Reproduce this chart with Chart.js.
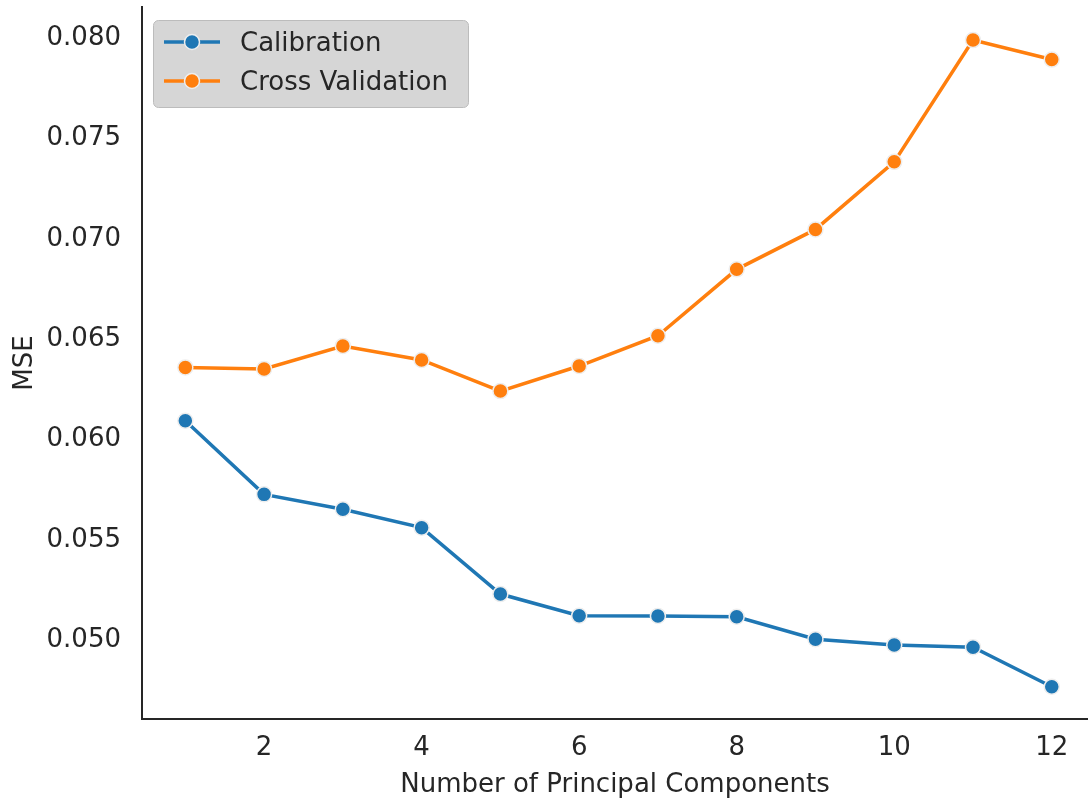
<!DOCTYPE html>
<html>
<head>
<meta charset="utf-8">
<title>MSE vs Number of Principal Components</title>
<script src="https://cdn.jsdelivr.net/npm/chart.js@4.4.1/dist/chart.umd.min.js"></script>
<style>
  html, body { margin: 0; padding: 0; background: #ffffff; }
  #wrap { width: 1088px; height: 803px; position: relative; }
</style>
</head>
<body>
<div id="wrap"><canvas id="chart" width="1088" height="803"></canvas></div>
<script>
// Number of principal components used in the model
const components = [1, 2, 3, 4, 5, 6, 7, 8, 9, 10, 11, 12];

// Mean squared error for each number of components
const calibrationMSE = [0.06081, 0.05714, 0.05640, 0.05548, 0.05217, 0.05109,
                        0.05108, 0.05104, 0.04992, 0.04963, 0.04952, 0.04755];
const crossValidationMSE = [0.06347, 0.06339, 0.06454, 0.06384, 0.06229, 0.06354,
                            0.06505, 0.06836, 0.07035, 0.07372, 0.07979, 0.07882];

// Axis tick values
const xTicks = [2, 4, 6, 8, 10, 12];
const yTicks = [0.050, 0.055, 0.060, 0.065, 0.070, 0.075, 0.080];

const seriesLabels = ['Calibration', 'Cross Validation'];
const seriesColors = ['#1f77b4', '#ff7f0e'];

const FONT = "'DejaVu Sans', sans-serif";
const TEXT = '#262626';

function toPoints(values) {
  return components.map((c, i) => ({ x: c, y: values[i] }));
}

function makeDataset(label, values, color) {
  return {
    label: label,
    data: toPoints(values),
    borderColor: color,
    backgroundColor: color,
    borderWidth: 3.5,
    pointRadius: 7.5,
    pointHoverRadius: 7.5,
    pointBackgroundColor: color,
    pointBorderColor: '#eeeeee',
    pointBorderWidth: 1.5,
    tension: 0,
    clip: false
  };
}

// Legend box drawn inside the plot area: line + marker handle, then label
const boxLegend = {
  id: 'boxLegend',
  afterDraw(chart) {
    const ctx = chart.ctx;
    const x0 = 153, y0 = 20, w = 315, h = 87, r = 5;
    ctx.save();
    ctx.beginPath();
    ctx.roundRect(x0 + 0.5, y0 + 0.5, w, h, r);
    ctx.fillStyle = '#d6d6d6';
    ctx.fill();
    ctx.lineWidth = 1;
    ctx.strokeStyle = '#bcbcbc';
    ctx.stroke();

    const rows = [42, 81];
    chart.data.datasets.forEach((ds, i) => {
      const y = rows[i];
      ctx.beginPath();
      ctx.moveTo(164, y);
      ctx.lineTo(220, y);
      ctx.lineWidth = 3.5;
      ctx.strokeStyle = ds.borderColor;
      ctx.stroke();
      ctx.beginPath();
      ctx.arc(192, y, 7.5, 0, Math.PI * 2);
      ctx.fillStyle = ds.pointBackgroundColor;
      ctx.fill();
      ctx.lineWidth = 1.5;
      ctx.strokeStyle = '#eeeeee';
      ctx.stroke();
      ctx.fillStyle = TEXT;
      ctx.font = '26px ' + FONT;
      ctx.textBaseline = 'middle';
      ctx.textAlign = 'left';
      ctx.fillText(ds.label, 240, y + 2);
    });
    ctx.restore();
  }
};

new Chart(document.getElementById('chart'), {
  type: 'line',
  data: {
    datasets: [
      makeDataset(seriesLabels[0], calibrationMSE, seriesColors[0]),
      makeDataset(seriesLabels[1], crossValidationMSE, seriesColors[1])
    ]
  },
  options: {
    responsive: false,
    animation: false,
    devicePixelRatio: 1,
    layout: { autoPadding: false, padding: { top: 7, right: 0, left: 0, bottom: 0 } },
    plugins: {
      legend: { display: false },
      tooltip: { enabled: false }
    },
    scales: {
      x: {
        type: 'linear',
        min: 0.45,
        max: 12.46,
        afterBuildTicks(scale) { scale.ticks = xTicks.map(v => ({ value: v })); },
        afterFit(scale) {
          scale.height = 84;
          scale.paddingLeft = 0;
          scale.paddingRight = 0;
        },
        grid: { display: false, drawTicks: false },
        border: { display: true, color: TEXT, width: 2 },
        ticks: {
          color: TEXT,
          font: { family: FONT, size: 26 },
          padding: 14,
          maxRotation: 0,
          autoSkip: false,
          callback: v => String(v)
        },
        title: {
          display: true,
          text: 'Number of Principal Components',
          color: TEXT,
          font: { family: FONT, size: 26 },
          padding: { top: 0, bottom: 2 }
        }
      },
      y: {
        type: 'linear',
        min: 0.04594,
        max: 0.08144,
        afterBuildTicks(scale) { scale.ticks = yTicks.map(v => ({ value: v })); },
        afterFit(scale) {
          scale.width = 142;
          scale.paddingTop = 0;
          scale.paddingBottom = 0;
        },
        grid: { display: false, drawTicks: false },
        border: { display: true, color: TEXT, width: 2 },
        ticks: {
          color: TEXT,
          font: { family: FONT, size: 26 },
          padding: 21,
          labelOffset: 2.5,
          autoSkip: false,
          callback: v => v.toFixed(3)
        },
        title: {
          display: true,
          text: 'MSE',
          color: TEXT,
          font: { family: FONT, size: 26 },
          padding: { top: 10, bottom: 0 }
        }
      }
    }
  },
  plugins: [boxLegend]
});
</script>
</body>
</html>
